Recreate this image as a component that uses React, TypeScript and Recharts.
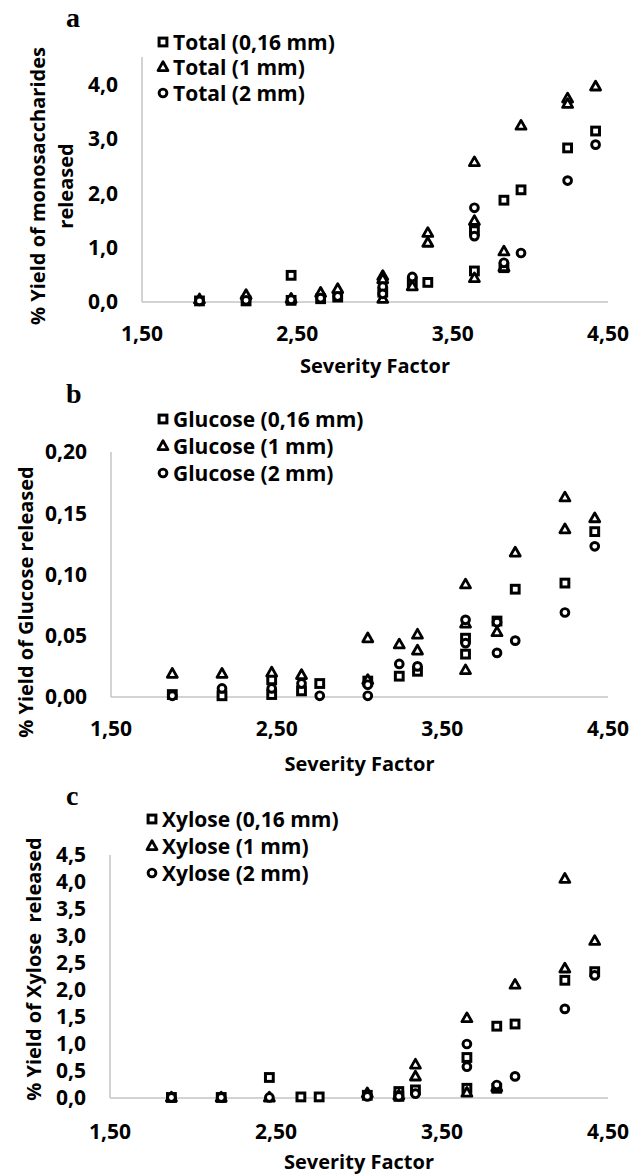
import React from "react";
import { ScatterChart, Scatter, XAxis, YAxis, Legend, Label } from "recharts";

type Pt = [number, number];

const FONT = "'Open Sans', Lato, sans-serif";

// severity factor axis, shared by the three panels
const sfTicks = [1.5, 2.5, 3.5, 4.5];

// a: total monosaccharides released (%)
const totalNames = ["Total (0,16 mm)", "Total (1 mm)", "Total (2 mm)"];
const totalTicks = [0, 1, 2, 3, 4];
const totalFine: Pt[] = [
  [1.87, 0.02], [2.17, 0.02], [2.46, 0.49], [2.46, 0.03], [2.65, 0.06], [2.76, 0.09],
  [3.05, 0.18], [3.24, 0.37], [3.34, 0.36], [3.64, 1.31], [3.64, 0.57], [3.83, 1.87],
  [3.83, 0.63], [3.94, 2.06], [4.24, 2.83], [4.42, 3.14],
];
const totalMid: Pt[] = [
  [1.87, 0.05], [2.17, 0.13], [2.46, 0.06], [2.65, 0.17], [2.76, 0.24], [3.05, 0.48],
  [3.05, 0.42], [3.05, 0.06], [3.24, 0.29], [3.34, 1.27], [3.34, 1.09], [3.64, 2.57],
  [3.64, 1.49], [3.64, 0.44], [3.83, 0.93], [3.83, 0.64], [3.94, 3.24], [4.24, 3.74],
  [4.24, 3.64], [4.42, 3.96],
];
const totalCoarse: Pt[] = [
  [1.87, 0.02], [2.17, 0.03], [2.46, 0.04], [2.65, 0.07], [2.76, 0.1], [3.05, 0.28],
  [3.05, 0.15], [3.24, 0.46], [3.64, 1.73], [3.64, 1.21], [3.83, 0.72], [3.94, 0.9],
  [4.24, 2.23], [4.42, 2.89],
];

// b: glucose released (%)
const glucoseNames = ["Glucose (0,16 mm)", "Glucose (1 mm)", "Glucose (2 mm)"];
const glucoseTicks = [0, 0.05, 0.1, 0.15, 0.2];
const glucoseFine: Pt[] = [
  [1.87, 0.002], [2.17, 0.001], [2.47, 0.014], [2.47, 0.002], [2.65, 0.005], [2.76, 0.011],
  [3.05, 0.013], [3.24, 0.017], [3.35, 0.021], [3.64, 0.048], [3.64, 0.035], [3.83, 0.062],
  [3.94, 0.088], [4.24, 0.093], [4.42, 0.135],
];
const glucoseMid: Pt[] = [
  [1.87, 0.019], [2.17, 0.019], [2.47, 0.02], [2.65, 0.018], [3.05, 0.048], [3.05, 0.014],
  [3.24, 0.043], [3.35, 0.051], [3.35, 0.038], [3.64, 0.092], [3.64, 0.06], [3.64, 0.022],
  [3.83, 0.053], [3.94, 0.118], [4.24, 0.163], [4.24, 0.137], [4.42, 0.146],
];
const glucoseCoarse: Pt[] = [
  [1.87, 0.001], [2.17, 0.007], [2.47, 0.007], [2.65, 0.011], [2.76, 0.001], [3.05, 0.01],
  [3.05, 0.001], [3.24, 0.027], [3.35, 0.025], [3.64, 0.063], [3.64, 0.044], [3.83, 0.061],
  [3.83, 0.036], [3.94, 0.046], [4.24, 0.069], [4.42, 0.123],
];

// c: xylose released (%)
const xyloseNames = ["Xylose (0,16 mm)", "Xylose (1 mm)", "Xylose (2 mm)"];
const xyloseTicks = [0, 0.5, 1, 1.5, 2, 2.5, 3, 3.5, 4, 4.5];
const xyloseFine: Pt[] = [
  [1.87, 0.01], [2.17, 0.01], [2.46, 0.38], [2.65, 0.02], [2.76, 0.02], [3.05, 0.05],
  [3.24, 0.12], [3.24, 0.03], [3.34, 0.15], [3.65, 0.75], [3.65, 0.18], [3.83, 1.33],
  [3.83, 0.18], [3.94, 1.37], [4.24, 2.18], [4.42, 2.34],
];
const xyloseMid: Pt[] = [
  [1.87, 0.01], [2.17, 0.01], [2.46, 0.01], [3.05, 0.09], [3.24, 0.05], [3.34, 0.62],
  [3.34, 0.4], [3.65, 1.48], [3.65, 0.1], [3.83, 0.2], [3.94, 2.1], [4.24, 4.06],
  [4.24, 2.4], [4.42, 2.91],
];
const xyloseCoarse: Pt[] = [
  [1.87, 0.01], [2.17, 0.01], [2.46, 0.01], [3.05, 0.03], [3.24, 0.03], [3.34, 0.08],
  [3.65, 1.0], [3.65, 0.58], [3.83, 0.24], [3.94, 0.4], [4.24, 1.65], [4.42, 2.27],
];

const toRows = (pts: Pt[]) => pts.map(([x, y]) => ({ x, y }));

// markers: square, triangle, circle (white fill, heavy black outline)
const drawMarker = (kind: number, cx: number, cy: number) => {
  if (kind === 0)
    return <rect x={cx - 3.9} y={cy - 3.9} width={7.8} height={7.8} fill="#fff" stroke="#000" strokeWidth={3} />;
  if (kind === 1)
    return (
      <path
        d={`M${cx},${cy - 5.2} L${cx + 5},${cy + 3.6} L${cx - 5},${cy + 3.6} Z`}
        fill="#fff"
        stroke="#000"
        strokeWidth={2.8}
        strokeLinejoin="round"
      />
    );
  return <circle cx={cx} cy={cy} r={3.9} fill="#fff" stroke="#000" strokeWidth={2.9} />;
};

const markerShape = (kind: number) => (props: any) =>
  props.cx == null ? <g /> : drawMarker(kind, props.cx, props.cy);

const LegendBox = ({ names, rowH }: { names: string[]; rowH: number }) => (
  <div style={{ fontFamily: FONT, fontWeight: 700, fontSize: 21, color: "#000" }}>
    {names.map((n, i) => (
      <div key={n} style={{ display: "flex", alignItems: "center", height: rowH, whiteSpace: "nowrap" }}>
        <svg width={12} height={12} style={{ overflow: "visible" }}>
          {drawMarker(i, 6, 6)}
        </svg>
        <span style={{ marginLeft: 4 }}>{n}</span>
      </div>
    ))}
  </div>
);

const YTitle = ({ lines, x, y }: { lines: string[]; x: number; y: number }) => (
  <text
    transform={`rotate(-90 ${x} ${y})`}
    x={x}
    y={y}
    textAnchor="middle"
    dominantBaseline="central"
    fontFamily={FONT}
    fontWeight={700}
    fontSize={20}
    fill="#000"
  >
    {lines.map((l, i) => (
      <tspan key={i} x={x} dy={i === 0 ? 0 : 28} style={{ whiteSpace: "pre" }}>
        {l}
      </tspan>
    ))}
  </text>
);

interface PanelProps {
  top: number;
  height: number;
  plotTop: number;
  yAxisWidth: number;
  xAxisHeight: number;
  xTickGap: number;
  xTitleGap: number;
  yMax: number;
  yTicks: number[];
  yDigits: number;
  series: Pt[][];
  names: string[];
  legendTop: number;
  legendLeft: number;
  legendRow: number;
  yTitle: string[];
  yTitleX: number;
  yTitleY: number;
}

const tickStyle = { fontFamily: FONT, fontWeight: 700, fontSize: 21, fill: "#000" };
const axisLine = { stroke: "#c4c4c4", strokeWidth: 1.5 };

function Panel(p: PanelProps) {
  return (
    <div style={{ position: "absolute", left: 0, top: p.top, width: 642, height: p.height }}>
      <ScatterChart width={642} height={p.height} margin={{ top: p.plotTop, right: 34, bottom: 0, left: 0 }}>
        <XAxis
          type="number"
          dataKey="x"
          domain={[1.5, 4.5]}
          ticks={sfTicks}
          interval={0}
          height={p.xAxisHeight}
          tickSize={0}
          tickMargin={p.xTickGap}
          tickLine={false}
          axisLine={axisLine}
          tick={tickStyle}
          tickFormatter={(v: number) => v.toFixed(2).replace(".", ",")}
        >
          <Label
            content={(lp: any) => {
              const vb = lp.viewBox || {};
              return (
                <text
                  x={vb.x + vb.width / 2}
                  y={vb.y + p.xTitleGap}
                  textAnchor="middle"
                  dominantBaseline="central"
                  fontFamily={FONT}
                  fontWeight={700}
                  fontSize={20}
                  fill="#000"
                >
                  Severity Factor
                </text>
              );
            }}
          />
        </XAxis>
        <YAxis
          type="number"
          dataKey="y"
          domain={[0, p.yMax]}
          ticks={p.yTicks}
          interval={0}
          width={p.yAxisWidth}
          tickSize={0}
          tickMargin={24}
          tickLine={false}
          axisLine={axisLine}
          tick={tickStyle}
          tickFormatter={(v: number) => v.toFixed(p.yDigits).replace(".", ",")}
        >
          <Label content={() => <YTitle lines={p.yTitle} x={p.yTitleX} y={p.yTitleY} />} />
        </YAxis>
        <Legend
          layout="vertical"
          align="center"
          verticalAlign="middle"
          wrapperStyle={{ top: p.legendTop, left: p.legendLeft, width: 280 }}
          content={() => <LegendBox names={p.names} rowH={p.legendRow} />}
        />
        {p.series.map((s, i) => (
          <Scatter
            key={p.names[i]}
            name={p.names[i]}
            data={toRows(s)}
            shape={markerShape(i)}
            isAnimationActive={false}
          />
        ))}
      </ScatterChart>
    </div>
  );
}

export default function App() {
  return (
    <div style={{ position: "absolute", left: 0, top: 0, width: 642, height: 1176, background: "#fff" }}>
      <Panel
        top={0}
        height={400}
        plotTop={57}
        yAxisWidth={142}
        xAxisHeight={98}
        xTickGap={24}
        xTitleGap={63}
        yMax={4.5}
        yTicks={totalTicks}
        yDigits={1}
        series={[totalFine, totalMid, totalCoarse]}
        names={totalNames}
        legendTop={29}
        legendLeft={157}
        legendRow={25.5}
        yTitle={["% Yield of monosaccharides", "released"]}
        yTitleX={37}
        yTitleY={186}
      />
      <Panel
        top={380}
        height={400}
        plotTop={72}
        yAxisWidth={111}
        xAxisHeight={83}
        xTickGap={24}
        xTitleGap={66}
        yMax={0.2}
        yTicks={glucoseTicks}
        yDigits={2}
        series={[glucoseFine, glucoseMid, glucoseCoarse]}
        names={glucoseNames}
        legendTop={25}
        legendLeft={157}
        legendRow={27}
        yTitle={["% Yield of Glucose released"]}
        yTitleX={25}
        yTitleY={222}
      />
      <Panel
        top={790}
        height={386}
        plotTop={65}
        yAxisWidth={110}
        xAxisHeight={78}
        xTickGap={26}
        xTitleGap={63}
        yMax={4.5}
        yTicks={xyloseTicks}
        yDigits={1}
        series={[xyloseFine, xyloseMid, xyloseCoarse]}
        names={xyloseNames}
        legendTop={15}
        legendLeft={146}
        legendRow={27}
        yTitle={["% Yield of Xylose  released"]}
        yTitleX={33}
        yTitleY={179}
      />
      <svg width={642} height={1176} style={{ position: "absolute", left: 0, top: 0, pointerEvents: "none" }}>
        <g fontFamily="'Liberation Serif', 'Times New Roman', serif" fontWeight={700} fontSize={28} fill="#000">
          <text x={66} y={27}>a</text>
          <text x={66} y={403}>b</text>
          <text x={66} y={805}>c</text>
        </g>
      </svg>
    </div>
  );
}
